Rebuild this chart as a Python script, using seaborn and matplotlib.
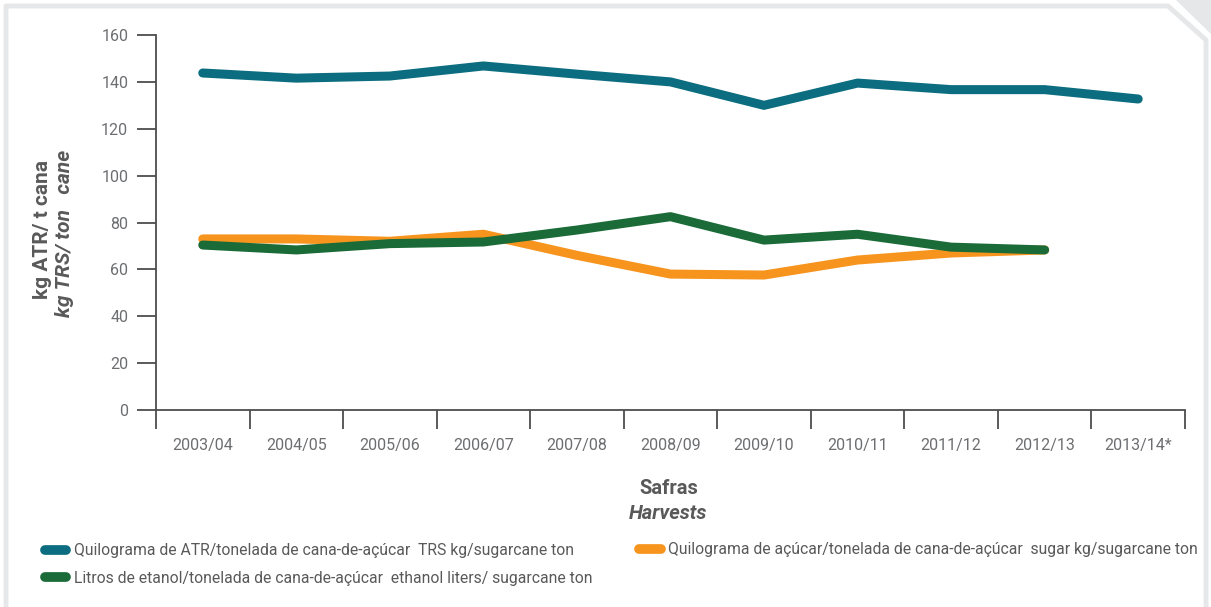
import matplotlib
matplotlib.use("Agg")
import matplotlib.pyplot as plt
import pandas as pd
import seaborn as sns
from matplotlib.lines import Line2D
from matplotlib.patches import Polygon


harvests = ["2003/04", "2004/05", "2005/06", "2006/07", "2007/08", "2008/09",
            "2009/10", "2010/11", "2011/12", "2012/13", "2013/14*"]
atr_values = [143.8, 141.6, 142.5, 146.8, 143.3, 140.0, 130.0, 139.5, 136.7, 136.7, 132.7]
sugar_values = [73.0, 73.0, 72.0, 75.0, 66.0, 58.0, 57.6, 64.0, 67.0, 68.3]
ethanol_values = [70.4, 68.3, 71.0, 71.7, 76.8, 82.5, 72.5, 75.0, 69.5, 68.3]

series_labels = [
    "Quilograma de ATR/tonelada de cana-de-açúcar  TRS kg/sugarcane ton",
    "Quilograma de açúcar/tonelada de cana-de-açúcar  sugar kg/sugarcane ton",
    "Litros de etanol/tonelada de cana-de-açúcar  ethanol liters/ sugarcane ton",
]
series_colors = ["#0b6d7f", "#f7941d", "#1b6b38"]

TEXT_GREY = "#595959"
TICK_GREY = "#6d6e71"
FONT = ["Roboto", "DejaVu Sans"]


def build_frame():
    rows = []
    for label, values in zip(series_labels, [atr_values, sugar_values, ethanol_values]):
        for harvest, value in zip(harvests, values):
            rows.append({"harvest": harvest, "value": value, "series": label})
    return pd.DataFrame(rows)


def draw_frame(fig):
    # light grey page border with the clipped corner
    w, h = 1211, 607
    pts = [(6, h), (6, 6), (1168, 6), (1206, 40), (1206, h)]
    fig.add_artist(Line2D([p[0] / w for p in pts], [1 - p[1] / h for p in pts],
                          transform=fig.transFigure, color="#e6e7e8", lw=3.5))
    tri = [(1176 / w, 1), (1, 1), (1, 1 - 34 / h)]
    fig.add_artist(Polygon(tri, closed=True, transform=fig.transFigure,
                           facecolor="#e6e7e8", edgecolor="none"))


def main():
    sns.set_theme(style="white")
    plt.rcParams["font.family"] = FONT

    df = build_frame()
    fig = plt.figure(figsize=(12.11, 6.07), dpi=100)
    ax = fig.add_axes([0.1288, 0.3245, 0.8497, 0.6178])

    sns.lineplot(data=df, x="harvest", y="value", hue="series", palette=dict(zip(series_labels, series_colors)),
                 hue_order=series_labels, errorbar=None, sort=False, lw=6.5, legend=False, ax=ax)
    for line in ax.lines:
        line.set_solid_capstyle("round")
        line.set_solid_joinstyle("round")

    ax.set_xlim(-0.5, len(harvests) - 0.5)
    ax.set_ylim(0, 160)
    ax.set_yticks(range(0, 161, 20))
    ax.set_xticks([i - 0.5 for i in range(len(harvests) + 1)])
    ax.set_xticklabels([])
    ax.set_xticks(range(len(harvests)), minor=True)
    ax.set_xticklabels(harvests, minor=True)
    ax.tick_params(axis="x", which="major", direction="out", length=14, width=1.3, color="#4d4d4d", bottom=True)
    ax.tick_params(axis="x", which="minor", length=0, pad=20, labelsize=11.5, labelcolor=TICK_GREY)
    ax.tick_params(axis="y", direction="out", length=14, width=1.3, color="#4d4d4d", left=True,
                   pad=6, labelsize=11.5, labelcolor=TICK_GREY)

    sns.despine(ax=ax)
    for side in ["left", "bottom"]:
        ax.spines[side].set_color("#4d4d4d")
        ax.spines[side].set_linewidth(1.3)
    ax.set_xlabel("")
    ax.set_ylabel("")

    fig.text(0.035, 0.622, "kg ATR/ t cana", rotation=90, ha="center", va="center",
             fontsize=15, fontweight="bold", color=TEXT_GREY)
    fig.text(0.053, 0.615, "kg TRS/ ton   cane", rotation=90, ha="center", va="center",
             fontsize=15, fontweight="bold", fontstyle="italic", color=TEXT_GREY)
    fig.text(0.552, 0.196, "Safras", ha="center", va="center",
             fontsize=14.5, fontweight="bold", color=TEXT_GREY)
    fig.text(0.552, 0.154, "Harvests", ha="center", va="center",
             fontsize=14.5, fontweight="bold", fontstyle="italic", color=TEXT_GREY)

    handles = [Line2D([], [], color=c, lw=7, solid_capstyle="round") for c in series_colors]
    legend_style = dict(frameon=False, fontsize=11.3, handlelength=1.35, handletextpad=0.5,
                        labelcolor=TEXT_GREY, borderaxespad=0, borderpad=0)
    fig.legend([handles[0], handles[2]], [series_labels[0], series_labels[2]], loc="center left",
               bbox_to_anchor=(0.037, 0.070), labelspacing=0.8, **legend_style)
    fig.legend([handles[1]], [series_labels[1]], loc="center left",
               bbox_to_anchor=(0.528, 0.094), **legend_style)

    draw_frame(fig)
    fig.savefig("out.png", dpi=100)
    plt.close(fig)


if __name__ == "__main__":
    main()
